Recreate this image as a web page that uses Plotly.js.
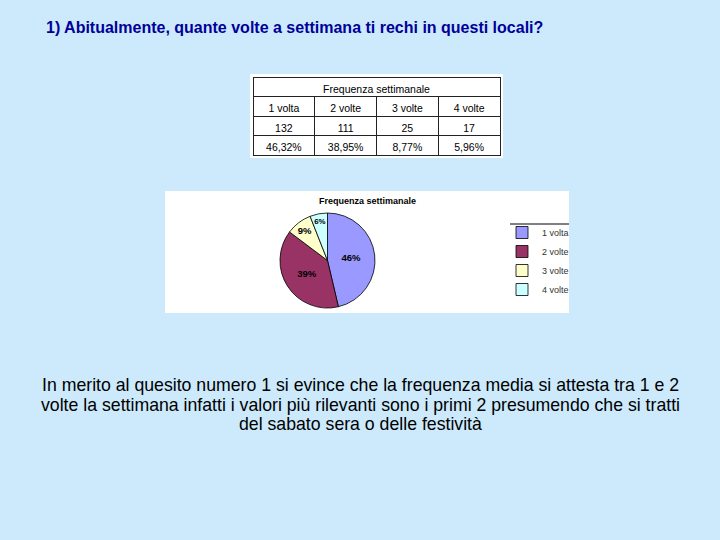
<!DOCTYPE html>
<html>
<head>
<meta charset="utf-8">
<script src="https://cdn.plot.ly/plotly-3.0.1.min.js"></script>
<style>html,body{margin:0;padding:0;background:#CCEAFC;}#chart{width:720px;height:540px;}</style>
</head>
<body>
<div id="chart"></div>
<script>
// ---- data ----
const tableTitle = "Frequenza settimanale";
const categories = ["1 volta", "2 volte", "3 volte", "4 volte"];
const counts = [132, 111, 25, 17];
const percentLabels = ["46,32%", "38,95%", "8,77%", "5,96%"];
const pieColors = ["#9999FF", "#993366", "#FFFFCC", "#CCFFFF"];
const pieTitle = "Frequenza settimanale";
const pageTitle = "1) Abitualmente, quante volte a settimana ti rechi in questi locali?";
const bodyLines = [
  "In merito al quesito numero 1 si evince che la frequenza media si attesta tra 1 e 2",
  "volte la settimana infatti i valori più rilevanti sono i primi 2 presumendo che si tratti",
  "del sabato sera o delle festività"
];

const W = 720, H = 540;
const px = x => x / W;
const py = y => 1 - y / H;
const font = "Liberation Sans, Arial, sans-serif";

const traces = [
  {
    type: "table",
    domain: {x: [px(253), px(500)], y: [py(100), py(77)]},
    columnwidth: [1],
    header: {
      values: [tableTitle],
      align: "center", height: 19,
      fill: {color: "#FFFFFF"},
      line: {color: "#222222", width: 1},
      font: {family: font, size: 10.5, color: "#000000"}
    },
    cells: {values: [[]], height: 19}
  },
  {
    type: "table",
    domain: {x: [px(253), px(500)], y: [py(160), py(96)]},
    columnwidth: [1, 1, 1, 1],
    header: {
      values: categories,
      align: "center", height: 20,
      fill: {color: "#FFFFFF"},
      line: {color: "#222222", width: 1},
      font: {family: font, size: 10.5, color: "#000000"}
    },
    cells: {
      values: categories.map((c, i) => [counts[i], percentLabels[i]]),
      align: "center", height: 19.5,
      fill: {color: "#FFFFFF"},
      line: {color: "#222222", width: 1},
      font: {family: font, size: 10.5, color: "#000000"}
    }
  },
  {
    type: "pie",
    labels: categories,
    values: counts,
    sort: false,
    direction: "clockwise",
    rotation: 0,
    domain: {x: [px(230), px(425)], y: [py(308), py(213)]},
    marker: {colors: pieColors, line: {color: "#000000", width: 0.8}},
    texttemplate: "%{percent:.0%}",
    textposition: "inside",
    insidetextorientation: "horizontal",
    textfont: {family: font, size: 9.5, color: "#000000", weight: "bold"},
    hoverinfo: "label+value+percent"
  }
];

const layout = {
  width: W, height: H,
  margin: {l: 0, r: 0, t: 0, b: 0},
  paper_bgcolor: "#CCEAFC",
  plot_bgcolor: "#CCEAFC",
  showlegend: true,
  legend: {
    x: px(502), y: py(218), xanchor: "left", yanchor: "top",
    bgcolor: "rgba(0,0,0,0)",
    font: {family: font, size: 9, color: "#333333"},
    itemwidth: 30, tracegroupgap: 0
  },
  shapes: [
    {type: "rect", xref: "paper", yref: "paper", x0: px(250), x1: px(503), y0: py(158), y1: py(74),
     fillcolor: "#FFFFFF", line: {width: 0}, layer: "below"},
    {type: "rect", xref: "paper", yref: "paper", x0: px(165), x1: px(569), y0: py(313), y1: py(191),
     fillcolor: "#FFFFFF", line: {width: 0}, layer: "below"},
    {type: "line", xref: "paper", yref: "paper", x0: px(510), x1: px(569), y0: py(224), y1: py(224),
     line: {color: "#000000", width: 1}}
  ],
  annotations: [
    {text: "<b>" + pageTitle + "</b>", xref: "paper", yref: "paper", x: px(44), y: py(28),
     xanchor: "left", yanchor: "middle", showarrow: false,
     font: {family: font, size: 16, color: "#000099"}},
    {text: "<b>" + pieTitle + "</b>", xref: "paper", yref: "paper", x: px(367), y: py(201),
     xanchor: "center", yanchor: "middle", showarrow: false,
     font: {family: font, size: 9, color: "#000000"}}
  ].concat(bodyLines.map((t, i) => ({
    text: t, xref: "paper", yref: "paper", x: 0.5, y: py(385 + i * 19.5),
    xanchor: "center", yanchor: "middle", showarrow: false,
    font: {family: font, size: 17.7, color: "#000000"}
  })))
};

Plotly.newPlot("chart", traces, layout, {displayModeBar: false, staticPlot: true});
</script>
</body>
</html>
